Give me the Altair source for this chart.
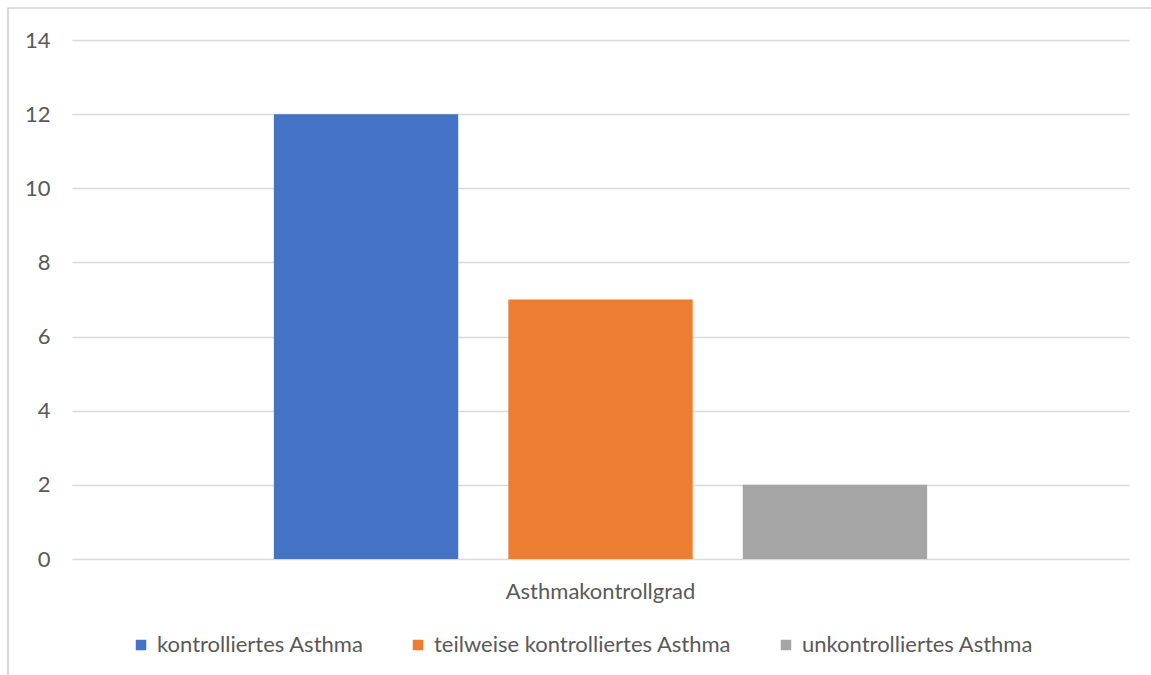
import altair as alt
import pandas as pd

category = "Asthmakontrollgrad"
series = ["kontrolliertes Asthma", "teilweise kontrolliertes Asthma", "unkontrolliertes Asthma"]
values = [12, 7, 2]
colors = ["#4472C4", "#ED7D31", "#A5A5A5"]
y_ticks = [0, 2, 4, 6, 8, 10, 12, 14]

df = pd.DataFrame({"cat": [category] * len(series), "series": series, "value": values})

FONT = "Lato"
TXT = "#595959"

bars = alt.Chart(df).mark_bar().encode(
    x=alt.X("cat:N", scale=alt.Scale(paddingInner=0, paddingOuter=0.309),
            axis=alt.Axis(title=None, labelAngle=0, ticks=False, domain=False, grid=False,
                          labelPadding=22, labelFontSize=22, labelColor=TXT, labelFont=FONT,
                          labelLimit=600)),
    xOffset=alt.XOffset("series:N", sort=series,
                        scale=alt.Scale(domain=series, paddingInner=0.2137, paddingOuter=0)),
    y=alt.Y("value:Q", scale=alt.Scale(domain=[0, 14]),
            axis=alt.Axis(title=None, values=y_ticks, ticks=False, domain=False,
                          labelPadding=22, labelFontSize=22, labelColor=TXT, labelFont=FONT,
                          gridColor="#D9D9D9", gridWidth=1.3)),
    color=alt.Color("series:N", sort=series,
                    scale=alt.Scale(domain=series, range=colors),
                    legend=alt.Legend(title=None, orient="none", direction="horizontal",
                                      legendX=58, legendY=594, columnPadding=43,
                                      symbolType="square", symbolSize=110, symbolStrokeWidth=0,
                                      symbolOpacity=1,
                                      labelFontSize=22, labelColor=TXT, labelFont=FONT,
                                      labelLimit=500, labelOffset=5)),
)

border = alt.Chart(pd.DataFrame({"a": [0]})).mark_rect(
    fillOpacity=0, stroke="#BFBFBF", strokeWidth=1.2
).encode(
    x=alt.value(-64), x2=alt.value(1151 - 72 + 20),
    y=alt.value(-32), y2=alt.value(675 - 40 + 20),
)

chart = alt.layer(bars, border).properties(
    width=1057, height=519,
    background="white",
    autosize=alt.AutoSizeParams(type="none"),
    padding={"left": 72, "top": 40, "right": 22, "bottom": 116},
).configure_view(strokeWidth=0, stroke="transparent")

chart.save("out.html", embed_options={"renderer": "svg", "actions": False})
